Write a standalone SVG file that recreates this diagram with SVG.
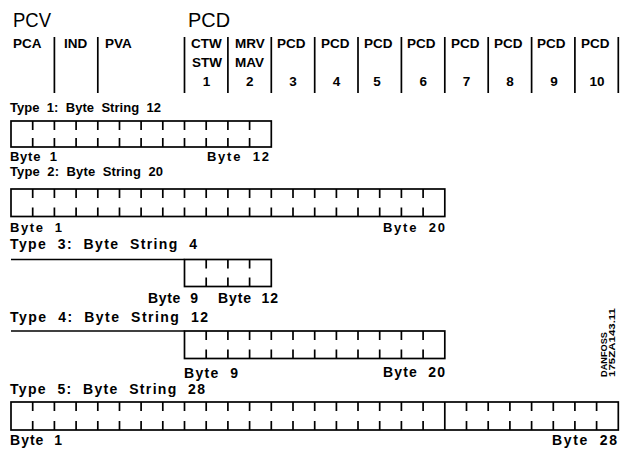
<svg xmlns="http://www.w3.org/2000/svg" width="620" height="450" viewBox="0 0 620 450">
<style>
  .big { font-family: "Liberation Sans", Arial, sans-serif; font-size: 20px; fill: #000; }
  .hd { font-family: "Liberation Sans", Arial, sans-serif; font-size: 13.5px; font-weight: bold; fill: #000; }
  .num { font-family: "Liberation Sans", Arial, sans-serif; font-size: 13.5px; font-weight: bold; fill: #000; text-anchor: middle; }
  .lbl { font-family: "Liberation Sans", Arial, sans-serif; font-size: 13px; font-weight: bold; fill: #000; }
  .lbl2 { font-family: "Liberation Sans", Arial, sans-serif; font-size: 14px; font-weight: bold; fill: #000; }
  .code { font-family: "Liberation Sans", Arial, sans-serif; font-size: 9.5px; font-weight: bold; fill: #000; }
  .ln { fill: none; stroke: #000; stroke-width: 1.7; }
</style>
<rect width="620" height="450" fill="#fff"/>

<g id="header">
  <text class="big" x="13" y="27" textLength="38" lengthAdjust="spacingAndGlyphs">PCV</text>
  <text class="big" x="188" y="27" textLength="42" lengthAdjust="spacingAndGlyphs">PCD</text>
  <text class="hd" x="13" y="48.3">PCA</text>
  <text class="hd" x="64" y="48.3">IND</text>
  <text class="hd" x="105" y="48.3">PVA</text>
  <text class="hd" x="191" y="48.3">CTW</text>
  <text class="hd" x="235" y="48.3">MRV</text>
  <text class="hd" x="277" y="48.3">PCD</text>
  <text class="hd" x="321" y="48.3">PCD</text>
  <text class="hd" x="364" y="48.3">PCD</text>
  <text class="hd" x="407" y="48.3">PCD</text>
  <text class="hd" x="451" y="48.3">PCD</text>
  <text class="hd" x="494" y="48.3">PCD</text>
  <text class="hd" x="537" y="48.3">PCD</text>
  <text class="hd" x="581" y="48.3">PCD</text>
  <text class="hd" x="192" y="66.7">STW</text>
  <text class="hd" x="235" y="66.7">MAV</text>
  <text class="num" x="206.4" y="86">1</text>
  <text class="num" x="249.7" y="86">2</text>
  <text class="num" x="293.1" y="86">3</text>
  <text class="num" x="336.5" y="86">4</text>
  <text class="num" x="377" y="86">5</text>
  <text class="num" x="423.2" y="86">6</text>
  <text class="num" x="466.5" y="86">7</text>
  <text class="num" x="509.9" y="86">8</text>
  <text class="num" x="554" y="86">9</text>
  <text class="num" x="597" y="86">10</text>
  <path class="ln" d="M54.4 37V93M97.8 37V93M184.5 37V93M227.9 37V93M271.3 37V93M314.7 37V93M358 37V93M401.4 37V93M444.8 37V93M488.2 37V93M531.6 37V93M574.9 37V93M618.3 37V93"/>
</g>

<g id="type1">
  <text class="lbl" x="10" y="111.5" textLength="151" lengthAdjust="spacing" xml:space="preserve">Type  1:  Byte  String  12</text>
  <rect class="ln" x="11" y="121" width="260.3" height="26"/>
  <path class="ln" d="M32.7 121v9M54.4 121v9M76.1 121v9M97.8 121v9M119.5 121v9M141.1 121v9M162.8 121v9M184.5 121v9M206.2 121v9M227.9 121v9M249.6 121v9M32.7 147v-9M54.4 147v-9M76.1 147v-9M97.8 147v-9M119.5 147v-9M141.1 147v-9M162.8 147v-9M184.5 147v-9M206.2 147v-9M227.9 147v-9M249.6 147v-9"/>
  <text class="lbl" x="10" y="160.5" textLength="47" lengthAdjust="spacing" xml:space="preserve">Byte  1</text>
  <text class="lbl" x="207" y="160.5" textLength="62" lengthAdjust="spacing" xml:space="preserve">Byte  12</text>
</g>

<g id="type2">
  <text class="lbl" x="10" y="175.5" textLength="153" lengthAdjust="spacing" xml:space="preserve">Type  2:  Byte  String  20</text>
  <rect class="ln" x="11" y="189" width="433.8" height="27.5"/>
  <path class="ln" d="M32.7 189v9M54.4 189v9M76.1 189v9M97.8 189v9M119.5 189v9M141.1 189v9M162.8 189v9M184.5 189v9M206.2 189v9M227.9 189v9M249.6 189v9M271.3 189v9M293 189v9M314.7 189v9M336.4 189v9M358 189v9M379.7 189v9M401.4 189v9M423.1 189v9M32.7 216.5v-9M54.4 216.5v-9M76.1 216.5v-9M97.8 216.5v-9M119.5 216.5v-9M141.1 216.5v-9M162.8 216.5v-9M184.5 216.5v-9M206.2 216.5v-9M227.9 216.5v-9M249.6 216.5v-9M271.3 216.5v-9M293 216.5v-9M314.7 216.5v-9M336.4 216.5v-9M358 216.5v-9M379.7 216.5v-9M401.4 216.5v-9M423.1 216.5v-9"/>
  <text class="lbl" x="10" y="232" textLength="52" lengthAdjust="spacing" xml:space="preserve">Byte  1</text>
  <text class="lbl" x="383" y="232" textLength="62" lengthAdjust="spacing" xml:space="preserve">Byte  20</text>
</g>

<g id="type3">
  <text class="lbl2" x="10" y="249" textLength="187" lengthAdjust="spacing" xml:space="preserve">Type  3:  Byte  String  4</text>
  <path class="ln" d="M11 259.5H184.5"/>
  <rect class="ln" x="184.5" y="259.5" width="86.8" height="27"/>
  <path class="ln" d="M206.2 259.5v9M227.9 259.5v9M249.6 259.5v9M206.2 286.5v-9M227.9 286.5v-9M249.6 286.5v-9"/>
  <text class="lbl2" x="148" y="303" textLength="50" lengthAdjust="spacing" xml:space="preserve">Byte  9</text>
  <text class="lbl2" x="218" y="303" textLength="60" lengthAdjust="spacing" xml:space="preserve">Byte  12</text>
</g>

<g id="type4">
  <text class="lbl2" x="10" y="321.5" textLength="198" lengthAdjust="spacing" xml:space="preserve">Type  4:  Byte  String  12</text>
  <path class="ln" d="M11 331H184.5"/>
  <rect class="ln" x="184.5" y="331" width="260.3" height="27.5"/>
  <path class="ln" d="M206.2 331v9M227.9 331v9M249.6 331v9M271.3 331v9M293 331v9M314.7 331v9M336.4 331v9M358 331v9M379.7 331v9M401.4 331v9M423.1 331v9M206.2 358.5v-9M227.9 358.5v-9M249.6 358.5v-9M271.3 358.5v-9M293 358.5v-9M314.7 358.5v-9M336.4 358.5v-9M358 358.5v-9M379.7 358.5v-9M401.4 358.5v-9M423.1 358.5v-9"/>
  <text class="lbl2" x="184" y="378" textLength="54" lengthAdjust="spacing" xml:space="preserve">Byte  9</text>
  <text class="lbl2" x="383" y="377" textLength="62" lengthAdjust="spacing" xml:space="preserve">Byte  20</text>
</g>

<g id="type5">
  <text class="lbl2" x="10" y="394" textLength="195" lengthAdjust="spacing" xml:space="preserve">Type  5:  Byte  String  28</text>
  <rect class="ln" x="11" y="402" width="607.3" height="28"/>
  <path class="ln" d="M444.8 402V430M32.7 402v9M54.4 402v9M76.1 402v9M97.8 402v9M119.5 402v9M141.1 402v9M162.8 402v9M184.5 402v9M206.2 402v9M227.9 402v9M249.6 402v9M271.3 402v9M293 402v9M314.7 402v9M336.4 402v9M358 402v9M379.7 402v9M401.4 402v9M423.1 402v9M466.5 402v9M488.2 402v9M509.9 402v9M531.6 402v9M553.3 402v9M574.9 402v9M596.6 402v9M32.7 430v-9M54.4 430v-9M76.1 430v-9M97.8 430v-9M119.5 430v-9M141.1 430v-9M162.8 430v-9M184.5 430v-9M206.2 430v-9M227.9 430v-9M249.6 430v-9M271.3 430v-9M293 430v-9M314.7 430v-9M336.4 430v-9M358 430v-9M379.7 430v-9M401.4 430v-9M423.1 430v-9M466.5 430v-9M488.2 430v-9M509.9 430v-9M531.6 430v-9M553.3 430v-9M574.9 430v-9M596.6 430v-9"/>
  <text class="lbl2" x="10" y="445" textLength="52" lengthAdjust="spacing" xml:space="preserve">Byte  1</text>
  <text class="lbl2" x="552" y="445" textLength="65" lengthAdjust="spacing" xml:space="preserve">Byte  28</text>
</g>

<g id="code">
  <text class="code" transform="translate(607,377) rotate(-90)" textLength="45" lengthAdjust="spacingAndGlyphs">DANFOSS</text>
  <text class="code" transform="translate(615,377) rotate(-90)" textLength="69" lengthAdjust="spacingAndGlyphs">175ZA143.11</text>
</g>
</svg>
